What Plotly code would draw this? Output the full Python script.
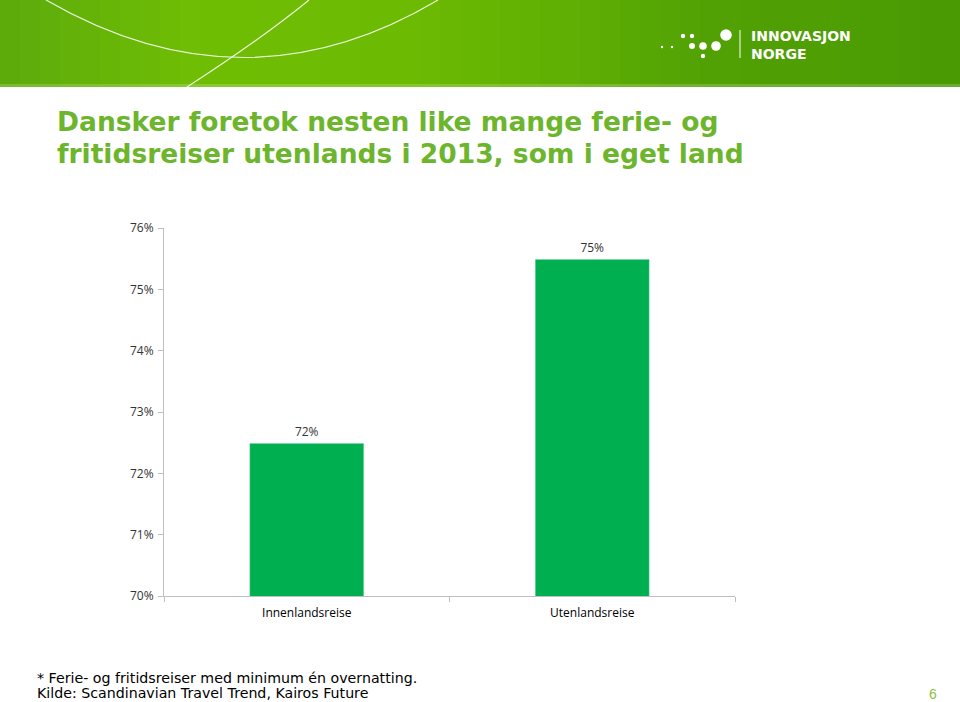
import plotly.graph_objects as go

categories = ["Innenlandsreise", "Utenlandsreise"]
values = [0.7249, 0.7549]
title_lines = ["Dansker foretok nesten like mange ferie- og",
               "fritidsreiser utenlands i 2013, som i eget land"]
footnote_lines = ["* Ferie- og fritidsreiser med minimum én overnatting.",
                  "Kilde: Scandinavian Travel Trend, Kairos Future"]
page_number = "6"

W, H = 960, 702
L, R, T, B = 164, 225, 228, 106
PW, PH = W - L - R, H - T - B


def px(x):
    return (x - L) / PW


def py(y):
    return (H - B - y) / PH


fig = go.Figure()
fig.add_trace(go.Bar(
    x=categories, y=values, marker_color="#00b050",
    texttemplate="%{y:.0%}", textposition="outside",
    textfont=dict(family="Open Sans, Lato, sans-serif", size=12, color="#333333"),
    cliponaxis=False, width=0.4, hoverinfo="skip",
))

shapes = []
# header band gradient (vertical strips)
stops = [(0, (92, 170, 12)), (200, (112, 190, 4)), (420, (108, 186, 2)),
         (560, (96, 176, 4)), (700, (82, 162, 4)), (960, (74, 154, 4))]
n = 48
for i in range(n):
    x0 = W * i / n
    x1 = W * (i + 1) / n
    xm = (x0 + x1) / 2
    for j in range(len(stops) - 1):
        if stops[j][0] <= xm <= stops[j + 1][0]:
            a, ca = stops[j]
            b, cb = stops[j + 1]
            t = (xm - a) / (b - a)
            c = tuple(int(ca[k] + (cb[k] - ca[k]) * t) for k in range(3))
            break
    shapes.append(dict(type="rect", xref="paper", yref="paper",
                       x0=px(x0), x1=px(x1 + 0.5), y0=py(87), y1=py(0),
                       fillcolor="rgb(%d,%d,%d)" % c, line_width=0, layer="below"))
shapes.append(dict(type="rect", xref="paper", yref="paper",
                   x0=px(0), x1=px(W), y0=py(87), y1=py(84),
                   fillcolor="rgba(255,255,255,0.18)", line_width=0, layer="below"))

# white arcs
a0 = (px(46), py(0)); a1 = (px(245), py(115)); a2 = (px(438), py(0))
shapes.append(dict(type="path", xref="paper", yref="paper",
                   path="M %f,%f Q %f,%f %f,%f" % (a0[0], a0[1], a1[0], a1[1], a2[0], a2[1]),
                   line=dict(color="rgba(255,255,255,0.85)", width=1.2)))
b0 = (px(187), py(87)); b1 = (px(260), py(40)); b2 = (px(309), py(0))
shapes.append(dict(type="path", xref="paper", yref="paper",
                   path="M %f,%f Q %f,%f %f,%f" % (b0[0], b0[1], b1[0], b1[1], b2[0], b2[1]),
                   line=dict(color="rgba(255,255,255,0.85)", width=1.2)))
# logo dots
dots = [(662, 47, 1.2), (672, 47, 1.2), (683, 36, 2.2), (692, 36, 2.2), (692, 46, 3),
        (703, 46, 3.8), (716, 46, 4.8), (726, 35, 5.8), (703, 56, 2.2)]
for (cx, cy, r) in dots:
    shapes.append(dict(type="circle", xref="paper", yref="paper",
                       x0=px(cx - r), x1=px(cx + r), y0=py(cy + r), y1=py(cy - r),
                       fillcolor="white", line_width=0))
shapes.append(dict(type="line", xref="paper", yref="paper",
                   x0=px(740), x1=px(740), y0=py(58), y1=py(30),
                   line=dict(color="white", width=1)))

annotations = []
annotations.append(dict(text="INNOVASJON<br>NORGE", xref="paper", yref="paper", x=px(749), y=py(45),
                        xanchor="left", yanchor="middle", align="left", showarrow=False,
                        font=dict(family="DejaVu Sans, sans-serif", size=14, color="white", weight="bold")))
for i, line in enumerate(title_lines):
    annotations.append(dict(text="<b>%s</b>" % line, xref="paper", yref="paper",
                            x=px(55), y=py(122 + 31 * i), xanchor="left", yanchor="middle",
                            showarrow=False,
                            font=dict(family="DejaVu Sans, sans-serif", size=26.5, color="#6cb52d")))
for i, line in enumerate(footnote_lines):
    annotations.append(dict(text=line, xref="paper", yref="paper",
                            x=px(35), y=py(678 + 15 * i), xanchor="left", yanchor="middle",
                            showarrow=False,
                            font=dict(family="DejaVu Sans, sans-serif", size=14.2, color="#000000")))
annotations.append(dict(text=page_number, xref="paper", yref="paper", x=px(933), y=py(694),
                        xanchor="center", yanchor="middle", showarrow=False,
                        font=dict(family="Liberation Sans, Arial, sans-serif", size=14, color="#8cbf3f")))

fig.update_layout(
    width=W, height=H, margin=dict(l=L, r=R, t=T, b=B, pad=0),
    paper_bgcolor="white", plot_bgcolor="white", showlegend=False,
    shapes=shapes, annotations=annotations, hovermode=False,
    xaxis=dict(range=[-0.5, 1.5], showline=True, linecolor="#bfbfbf", linewidth=1,
               ticks="outside", tickson="boundaries", ticklen=5, tickcolor="#bfbfbf",
               showgrid=False, zeroline=False, ticklabelstandoff=6,
               tickfont=dict(family="Open Sans, Lato, sans-serif", size=12, color="#000000")),
    yaxis=dict(range=[0.70, 0.76], dtick=0.01, tickformat=".0%", showline=True,
               linecolor="#bfbfbf", linewidth=1, ticks="outside", ticklen=5, tickcolor="#bfbfbf",
               showgrid=False, zeroline=False, ticklabelstandoff=2,
               tickfont=dict(family="Open Sans, Lato, sans-serif", size=12, color="#333333")),
)

fig.write_html("out.html", config={"displayModeBar": False},
               post_script="document.body.style.margin='0';document.body.style.overflow='hidden';")
